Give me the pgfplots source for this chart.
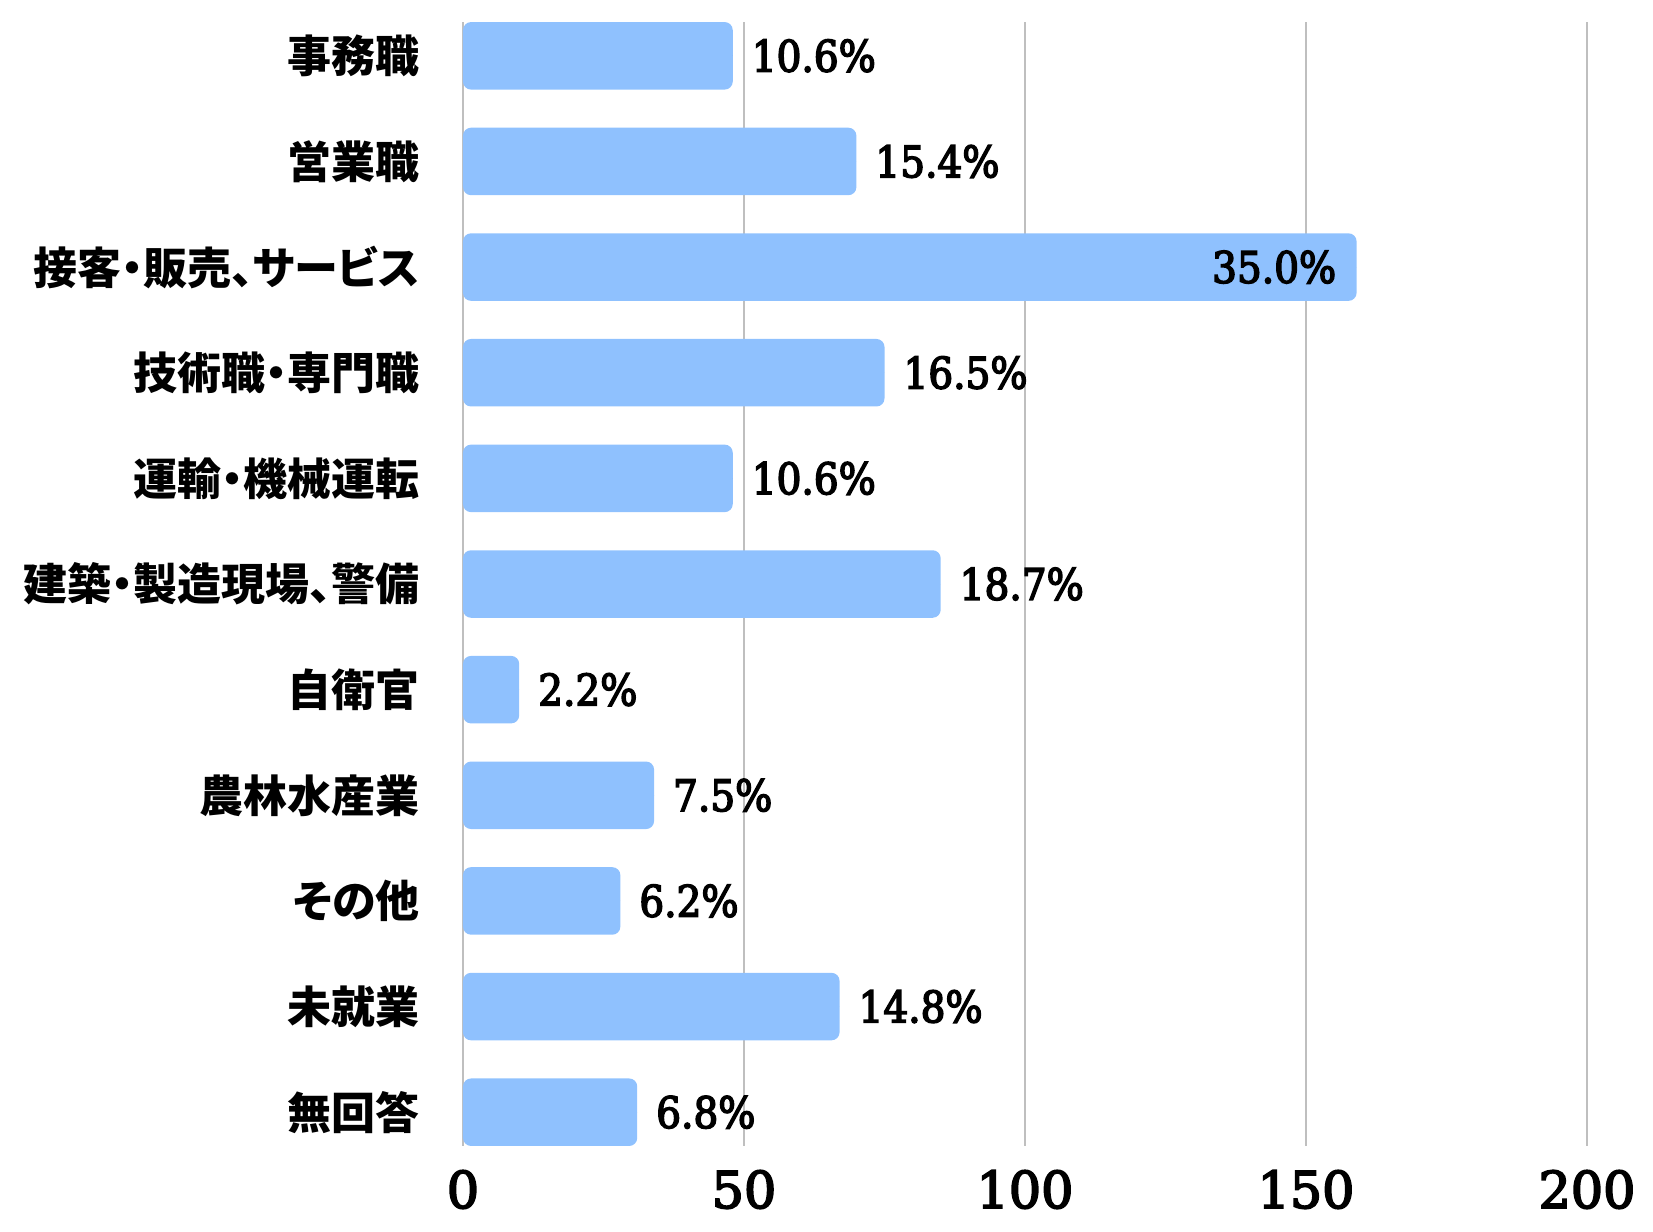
\documentclass[border=0pt]{standalone}
\usepackage{fontspec}
\setmainfont{DejaVu Serif}
\newfontfamily\tickfont{DejaVu Serif}[FakeBold=3.5]
\newfontfamily\lblfont{DejaVu Serif}[FakeStretch=0.9, FakeBold=3.5]
\newfontfamily\cjk{Noto Sans CJK JP}[RawFeature={+palt}]
\usepackage{pgfplots}
\pgfplotsset{compat=1.18}
\definecolor{barblue}{RGB}{143,193,254}
\begin{document}
\begin{tikzpicture}
\path[use as bounding box] (-231.5pt,-42.5pt) rectangle (595pt,573pt);
\begin{axis}[
  at={(0,0)}, anchor=south west,
  scale only axis, width=562pt, height=562pt,
  xmin=0, xmax=200, ymin=-0.32, ymax=10.32, y dir=reverse,
  xtick={0,50,100,150,200},
  ytick={0,1,2,3,4,5,6,7,8,9,10},
  yticklabels={事務職,営業職,接客・販売、サービス,技術職・専門職,運輸・機械運転,建築・製造現場、警備,自衛官,農林水産業,その他,未就業,無回答},
  axis line style={draw=none},
  major tick length=0pt,
  xmajorgrids, grid style={color=black!25, line width=0.6pt},
  /pgf/number format/assume math mode=true,
  xticklabel style={font=\fontsize{25.4}{30}\tickfont, anchor=center, yshift=-21.75pt, inner sep=0pt},
  yticklabel style={font=\fontsize{22}{26}\cjk\bfseries, anchor=east, xshift=-21.6pt, inner sep=0pt},
]
\addplot[xbar, bar width=33.75pt, fill=barblue, draw=none, rounded corners=4pt]
  coordinates {(48,0) (70,1) (159,2) (75,3) (48,4) (85,5) (10,6) (34,7) (28,8) (67,9) (31,10)};
\addplot[only marks, mark=*, mark size=0pt, mark options={draw=none, fill=none},
  nodes near coords, point meta=explicit symbolic,
  nodes near coords style={anchor=west, xshift=9.3pt, inner sep=0pt, text=black, font=\fontsize{21.7}{26}\lblfont}]
  coordinates {(48,0) [10.6\%] (70,1) [15.4\%] (75,3) [16.5\%] (48,4) [10.6\%] (85,5) [18.7\%] (10,6) [2.2\%] (34,7) [7.5\%] (28,8) [6.2\%] (67,9) [14.8\%] (31,10) [6.8\%]};
\addplot[only marks, mark=*, mark size=0pt, mark options={draw=none, fill=none},
  nodes near coords, point meta=explicit symbolic,
  nodes near coords style={anchor=east, xshift=-10pt, inner sep=0pt, text=black, font=\fontsize{21.7}{26}\lblfont}]
  coordinates {(159,2) [35.0\%]};
\end{axis}
\end{tikzpicture}
\end{document}
